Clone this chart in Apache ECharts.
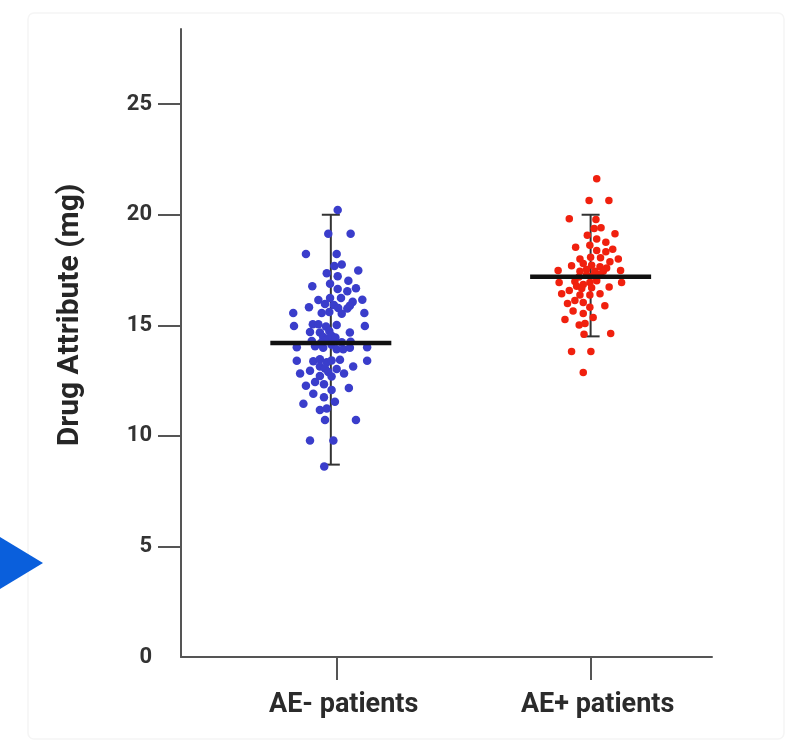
<!DOCTYPE html>
<html>
<head>
<meta charset="utf-8">
<script src="https://cdn.jsdelivr.net/npm/echarts@6/dist/echarts.min.js"></script>
<style>
  html, body { margin: 0; padding: 0; background: #fff; }
  #chart { width: 795px; height: 745px; }
</style>
</head>
<body>
<div id="chart"></div>
<script>
// categories and axis ticks
const categories = ["AE- patients", "AE+ patients"];
const categoryPos = [1, 2];
const yTickValues = [0, 5, 10, 15, 20, 25];

// individual patients: [jittered x, value]
const aeNegPoints = [
  [1.004, 20.21], [0.967, 19.14], [1.055, 19.14], [0.879, 18.22], [1.000, 18.22], [0.991, 17.68],
  [1.020, 17.75], [0.961, 17.35], [1.085, 17.48], [1.004, 17.22], [1.046, 17.02], [0.904, 16.77],
  [0.974, 16.88], [1.004, 16.64], [1.076, 16.68], [1.042, 16.54], [0.928, 16.14], [0.974, 16.23],
  [1.017, 16.23], [1.063, 16.06], [1.101, 16.16], [0.891, 15.82], [0.954, 15.96], [0.989, 15.92],
  [1.006, 15.78], [1.042, 15.76], [1.052, 15.89], [0.829, 15.56], [0.941, 15.56], [0.971, 15.60],
  [1.020, 15.52], [1.109, 15.56], [0.832, 14.97], [0.906, 15.05], [0.928, 15.05], [0.958, 14.95],
  [1.000, 15.01], [1.111, 14.97], [0.895, 14.70], [0.934, 14.67], [0.971, 14.74], [0.980, 14.53],
  [1.052, 14.67], [0.902, 14.29], [0.947, 14.47], [0.967, 14.40], [0.993, 14.33], [1.020, 14.23],
  [1.055, 14.26], [0.843, 14.01], [0.915, 14.05], [0.947, 13.98], [0.980, 14.12], [1.000, 13.92],
  [1.026, 13.92], [1.052, 13.98], [1.120, 14.01], [0.843, 13.40], [0.908, 13.37], [0.934, 13.47],
  [0.961, 13.33], [0.980, 13.41], [1.013, 13.44], [1.120, 13.40], [0.856, 12.82], [0.895, 12.95],
  [0.934, 13.14], [0.954, 13.05], [0.967, 12.89], [1.000, 13.02], [1.029, 12.82], [1.065, 13.14],
  [0.934, 12.71], [0.980, 12.68], [0.879, 12.27], [0.915, 12.44], [0.950, 12.34], [0.980, 12.07],
  [1.048, 12.17], [0.908, 11.90], [0.950, 11.75], [0.993, 11.54], [0.869, 11.45], [0.934, 11.17],
  [0.961, 11.24], [0.954, 10.72], [1.076, 10.72], [0.895, 9.79], [0.987, 9.79], [0.951, 8.62],
  [0.954, 14.29], [0.938, 14.20], [0.995, 14.45]
];
const aePosPoints = [
  [2.024, 21.63], [1.994, 20.64], [2.072, 20.64], [1.916, 19.82], [2.021, 19.79], [2.014, 19.38],
  [2.041, 19.41], [1.987, 19.07], [2.096, 19.14], [2.024, 18.90], [1.997, 18.62], [2.060, 18.76],
  [1.941, 18.53], [2.024, 18.38], [2.060, 18.33], [2.087, 18.44], [1.958, 18.00], [2.000, 18.08],
  [2.039, 18.06], [2.109, 18.00], [1.925, 17.69], [1.971, 17.79], [2.004, 17.72], [2.037, 17.65],
  [2.076, 17.88], [2.063, 17.59], [1.872, 17.48], [1.958, 17.45], [1.984, 17.52], [2.017, 17.45],
  [2.050, 17.45], [2.118, 17.48], [1.984, 17.27], [2.010, 17.23], [2.037, 17.31], [1.954, 17.19],
  [1.876, 16.94], [1.938, 16.98], [1.971, 16.84], [1.997, 16.94], [2.024, 17.02], [2.122, 16.94],
  [1.945, 16.77], [1.965, 16.66], [2.004, 16.70], [2.073, 16.73], [1.886, 16.43], [1.916, 16.57],
  [1.958, 16.37], [1.997, 16.37], [2.037, 16.43], [1.909, 15.99], [1.938, 16.12], [1.971, 16.03],
  [1.997, 15.82], [2.056, 15.89], [1.931, 15.65], [1.971, 15.53], [2.010, 15.35], [1.899, 15.26],
  [1.955, 15.01], [1.978, 15.08], [1.974, 14.60], [2.079, 14.63], [1.925, 13.81], [2.001, 13.81],
  [1.971, 12.87]
];

// summary per group: centre, mean, error bar low / high
const groupCenters = [0.977, 2.0];
const groupMeans = [14.2, 17.2];
const groupLows = [8.7, 14.5];
const groupHighs = [20, 20];

const summary = groupCenters.map((c, i) => [c, groupMeans[i], groupLows[i], groupHighs[i]]);

function renderWhisker(params, api) {
  const x = api.value(0);
  const top = api.coord([x, api.value(3)]);
  const bottom = api.coord([x, api.value(2)]);
  const style = { stroke: "#333", lineWidth: 2 };
  return {
    type: "group",
    children: [
      { type: "line", shape: { x1: top[0], y1: top[1], x2: bottom[0], y2: bottom[1] }, style: style },
      { type: "line", shape: { x1: top[0] - 9, y1: top[1], x2: top[0] + 9, y2: top[1] }, style: style },
      { type: "line", shape: { x1: bottom[0] - 9, y1: bottom[1], x2: bottom[0] + 9, y2: bottom[1] }, style: style }
    ]
  };
}

function renderMean(params, api) {
  const p = api.coord([api.value(0), api.value(1)]);
  return {
    type: "line",
    shape: { x1: p[0] - 60.5, y1: p[1], x2: p[0] + 60.5, y2: p[1] },
    style: { stroke: "#111", lineWidth: 4.5 }
  };
}

let option = {
  backgroundColor: "#fff",
  animation: false,
  textStyle: { fontFamily: "Roboto" },
  grid: {
    top: 29,
    left: 181,
    right: 83,
    bottom: 88
  },
  graphic: [
    {
      type: "rect",
      shape: { x: 28, y: 13, width: 756, height: 726, r: 6 },
      style: { fill: "none", stroke: "#f5f5f5", lineWidth: 1.5 },
      z: -10
    },
    {
      type: "polygon",
      shape: { points: [[0, 537], [43, 563], [0, 589]] },
      style: { fill: "#0a5fdc" }
    },
    {
      type: "text",
      x: 70,
      y: 315,
      rotation: Math.PI / 2,
      style: {
        text: "Drug Attribute (mg)",
        fontFamily: "Roboto",
        fontWeight: "bold",
        fontSize: 30,
        fill: "#262626",
        align: "center",
        verticalAlign: "middle"
      }
    }
  ],
  xAxis: {
    type: "value",
    min: 0.387,
    max: 2.478,
    splitLine: { show: false },
    axisLine: { lineStyle: { color: "#555", width: 2 } },
    axisTick: {
      customValues: categoryPos,
      length: 23,
      lineStyle: { color: "#555", width: 2 }
    },
    axisLabel: {
      customValues: categoryPos,
      margin: 35,
      fontSize: 27,
      fontWeight: "bold",
      color: "#2b2b2b",
      padding: [0, 0, 0, 14],
      formatter: function (v) {
        return categories[categoryPos.indexOf(v)];
      }
    }
  },
  yAxis: {
    type: "value",
    min: 0,
    max: 28.4,
    interval: 5,
    splitLine: { show: false },
    axisLine: { show: true, lineStyle: { color: "#555", width: 2 } },
    axisTick: {
      show: true,
      customValues: yTickValues.slice(1),
      length: 23,
      lineStyle: { color: "#555", width: 2 }
    },
    axisLabel: {
      customValues: yTickValues,
      margin: 29,
      fontSize: 22,
      fontWeight: "bold",
      color: "#333"
    }
  },
  series: [
    {
      type: "custom",
      renderItem: renderWhisker,
      data: summary,
      silent: true,
      z: 1
    },
    {
      name: "AE- patients",
      type: "scatter",
      data: aeNegPoints,
      symbolSize: 8.5,
      itemStyle: { color: "#3a3dcb", opacity: 1 },
      silent: true,
      z: 2
    },
    {
      name: "AE+ patients",
      type: "scatter",
      data: aePosPoints,
      symbolSize: 7.5,
      itemStyle: { color: "#f0200e", opacity: 1 },
      silent: true,
      z: 2
    },
    {
      type: "custom",
      renderItem: renderMean,
      data: summary,
      silent: true,
      z: 3
    }
  ]
};

const dom = echarts.init(document.getElementById("chart"));
dom.setOption(option);
</script>
</body>
</html>
